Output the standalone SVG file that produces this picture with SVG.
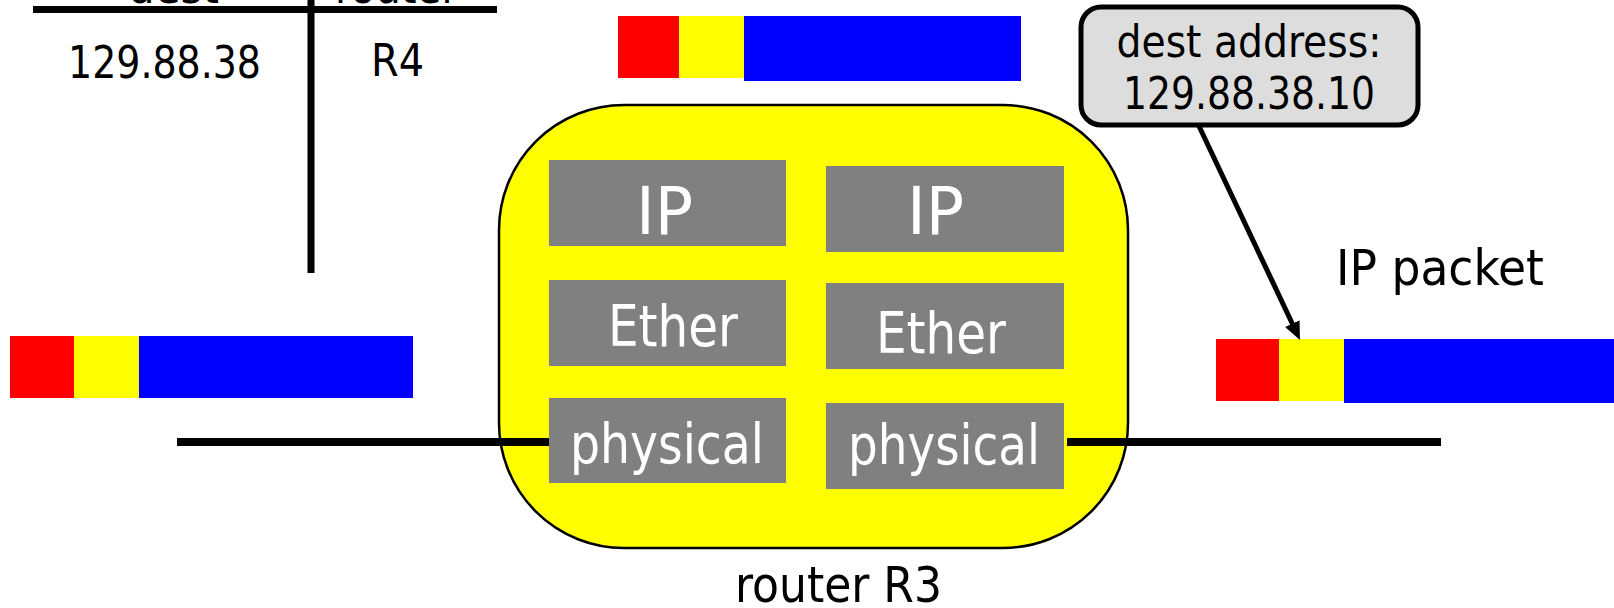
<svg xmlns="http://www.w3.org/2000/svg" width="1614" height="608" viewBox="0 0 1614 608">
  <style>
    text { font-family: "DejaVu Sans Condensed", "DejaVu Sans", Verdana, sans-serif; font-stretch: condensed; }
    .lbl { fill: #000000; }
    .layer { fill: #808080; }
    .layer-txt { fill: #ffffff; }
    .red { fill: #ff0000; }
    .yel { fill: #ffff00; }
    .blu { fill: #0000ff; }
    .wire { stroke: #000000; stroke-width: 8; fill: none; }
    .rule { stroke: #000000; stroke-width: 7; fill: none; }
  </style>
  <defs>
    <marker id="head" markerUnits="userSpaceOnUse" markerWidth="18" markerHeight="16" refX="4" refY="8" orient="auto">
      <path d="M0,0 L18,8 L0,16 z" fill="#000000"/>
    </marker>
  </defs>

  <rect width="1614" height="608" fill="#ffffff"/>

  <!-- forwarding table fragment -->
  <g id="table">
    <text class="lbl" x="128" y="3" font-size="45" textLength="91" lengthAdjust="spacingAndGlyphs">dest</text>
    <text class="lbl" x="335" y="3" font-size="45" textLength="123" lengthAdjust="spacingAndGlyphs">router</text>
    <line class="rule" x1="33" y1="9.5" x2="497" y2="9.5"/>
    <line class="rule" x1="311" y1="0" x2="311" y2="273"/>
    <text class="lbl" x="68" y="78" font-size="44" textLength="193" lengthAdjust="spacingAndGlyphs">129.88.38</text>
    <text class="lbl" x="371" y="76" font-size="44" textLength="53" lengthAdjust="spacingAndGlyphs">R4</text>
  </g>

  <!-- packets: header / IP header / payload -->
  <g id="packet-top">
    <rect class="red" x="618" y="16" width="61" height="62"/>
    <rect class="yel" x="679" y="16" width="65" height="62"/>
    <rect class="blu" x="744" y="16" width="277" height="65"/>
  </g>
  <g id="packet-left">
    <rect class="red" x="10" y="336" width="64" height="62"/>
    <rect class="yel" x="74" y="336" width="65" height="62"/>
    <rect class="blu" x="139" y="336" width="274" height="62"/>
  </g>
  <g id="packet-right">
    <rect class="red" x="1216" y="339" width="63" height="62"/>
    <rect class="yel" x="1279" y="339" width="65" height="62"/>
    <rect class="blu" x="1344" y="339" width="270" height="64"/>
  </g>

  <!-- router R3 with its two protocol stacks -->
  <g id="router-r3">
    <rect x="499" y="105" width="629" height="443" rx="125" ry="125" fill="#ffff00" stroke="#000000" stroke-width="2.5"/>
    <g id="stack-left">
      <rect class="layer" x="549" y="160" width="237" height="86"/>
      <text class="layer-txt" x="636" y="234" font-size="65" textLength="57" lengthAdjust="spacingAndGlyphs">IP</text>
      <rect class="layer" x="549" y="280" width="237" height="86"/>
      <text class="layer-txt" x="608" y="346" font-size="57" textLength="130" lengthAdjust="spacingAndGlyphs">Ether</text>
      <rect class="layer" x="549" y="398" width="237" height="85"/>
      <text class="layer-txt" x="570" y="463" font-size="55" textLength="194" lengthAdjust="spacingAndGlyphs">physical</text>
    </g>
    <g id="stack-right">
      <rect class="layer" x="826" y="166" width="238" height="86"/>
      <text class="layer-txt" x="907" y="234" font-size="65" textLength="57" lengthAdjust="spacingAndGlyphs">IP</text>
      <rect class="layer" x="826" y="283" width="238" height="86"/>
      <text class="layer-txt" x="876" y="353" font-size="57" textLength="130" lengthAdjust="spacingAndGlyphs">Ether</text>
      <rect class="layer" x="826" y="403" width="238" height="86"/>
      <text class="layer-txt" x="848" y="464" font-size="55" textLength="192" lengthAdjust="spacingAndGlyphs">physical</text>
    </g>
  </g>
  <text id="label-router" class="lbl" x="735" y="602" font-size="50" textLength="207" lengthAdjust="spacingAndGlyphs">router R3</text>

  <!-- callout -->
  <g id="callout">
    <rect x="1081" y="7" width="337" height="118" rx="20" ry="20" fill="#dddddd" stroke="#000000" stroke-width="5"/>
    <text class="lbl" x="1249" y="57" font-size="44" text-anchor="middle" textLength="265" lengthAdjust="spacingAndGlyphs">dest address:</text>
    <text class="lbl" x="1249" y="109" font-size="44" text-anchor="middle" textLength="252" lengthAdjust="spacingAndGlyphs">129.88.38.10</text>
  </g>
  <text id="label-packet" class="lbl" x="1336" y="285" font-size="50" textLength="208" lengthAdjust="spacingAndGlyphs">IP packet</text>

  <!-- links and pointer -->
  <g id="connectors">
    <line class="wire" x1="177" y1="442" x2="549" y2="442"/>
    <line class="wire" x1="1067" y1="442" x2="1441" y2="442"/>
    <line x1="1198" y1="124" x2="1294" y2="327.3" stroke="#000000" stroke-width="5" marker-end="url(#head)"/>
  </g>
</svg>
